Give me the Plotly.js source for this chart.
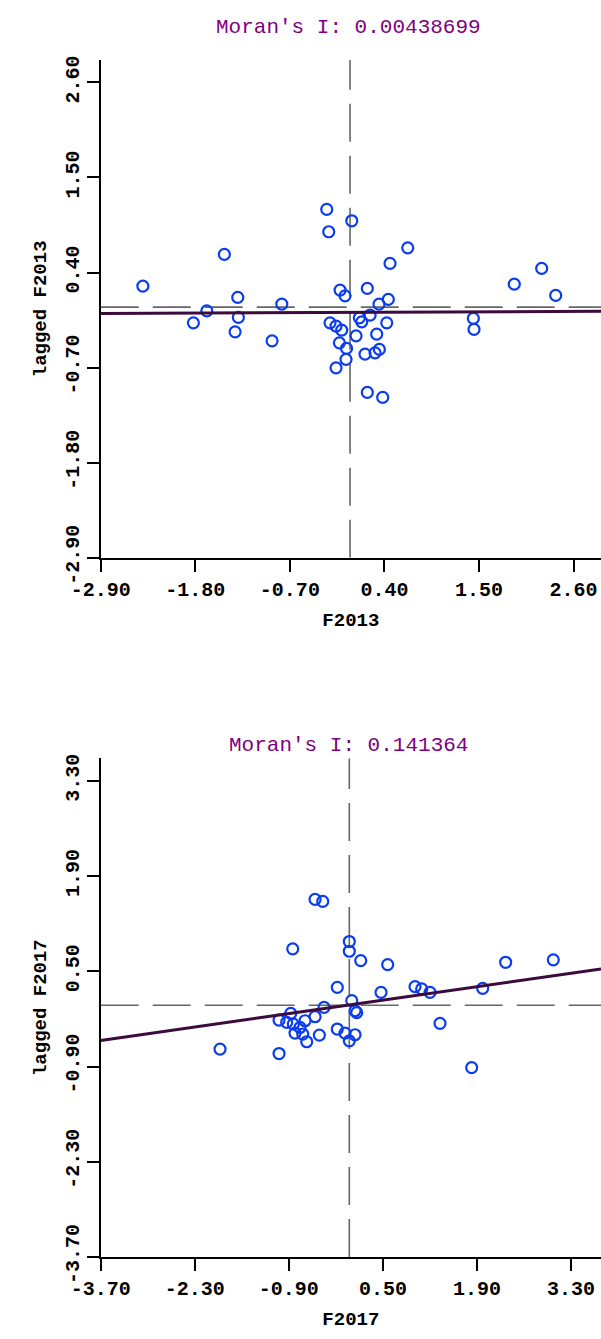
<!DOCTYPE html>
<html>
<head>
<meta charset="utf-8">
<script src="https://cdn.plot.ly/plotly-3.0.1.min.js"></script>
<style>
  html, body { margin: 0; padding: 0; background: #ffffff; }
  #chart { width: 601px; height: 1339px; }
</style>
</head>
<body>
<div id="chart"></div>
<script>
// ---------- data: Moran scatter plot 2013 ----------
const f2013 = [-0.271, -0.248, -1.462, -2.410, -1.306, -0.116, -0.058, -0.794, -1.666, -1.299,
               -1.822, -1.337, -0.907, -0.233, -0.163, -0.097, -0.124, -0.041, -0.047, -0.163,
                0.020,  0.671,  0.465,  0.201,  0.445,  0.337,  0.233,  0.108,  0.136,  0.427,
                0.070,  0.310,  0.174,  0.291,  0.341,  0.201,  0.380,  1.434,  1.442,  1.910,
                2.229,  2.392];
const laggedF2013 = [1.131, 0.872, 0.610, 0.243, 0.112, 0.197, 0.131, 0.035, -0.043, -0.119,
                    -0.182, -0.286, -0.390, -0.182, -0.220, -0.266, -0.413, -0.478, -0.605, -0.703,
                     0.999, 0.686, 0.506, 0.216, 0.089, 0.035, -0.093, -0.124, -0.170, -0.182,
                    -0.332, -0.313, -0.544, -0.529, -0.490, -0.987, -1.045, -0.131, -0.258, 0.266,
                     0.448, 0.135];
const moranI2013 = 0.00438699;
const intercept2013 = -0.061;
const ticks2013 = [-2.9, -1.8, -0.7, 0.4, 1.5, 2.6];
const tickLabels2013 = ["-2.90", "-1.80", "-0.70", "0.40", "1.50", "2.60"];

// ---------- data: Moran scatter plot 2017 ----------
const f2017 = [-0.510, -0.396, -0.842, 0.000, 0.000, 0.170, 0.571, 2.327, 3.036, -0.179,
                0.472, 0.978, 1.077, 1.201, 1.985, 0.036, 0.085, 0.110, 1.350, -0.179,
               -0.064, 0.085, 0.000, 1.821, -1.924, -1.046, -0.376, -0.510, -0.872, -1.046,
               -0.932, -0.833, -0.659, -0.734, -0.808, -0.693, -0.634, -0.446];
const laggedF2017 = [1.556, 1.527, 0.830, 0.937, 0.794, 0.657, 0.598, 0.632, 0.668, 0.264,
                     0.190, 0.274, 0.240, 0.190, 0.249, 0.068, -0.080, -0.109, -0.267, -0.349,
                    -0.408, -0.433, -0.522, -0.915, -0.644, -0.709, -0.031, -0.168, -0.119, -0.217,
                    -0.252, -0.276, -0.227, -0.326, -0.408, -0.423, -0.536, -0.438];
const moranI2017 = 0.141364;
const intercept2017 = 0.005;
const ticks2017 = [-3.7, -2.3, -0.9, 0.5, 1.9, 3.3];
const tickLabels2017 = ["-3.70", "-2.30", "-0.90", "0.50", "1.90", "3.30"];

// ---------- styling ----------
const FONT = "Liberation Mono, DejaVu Sans Mono, monospace";
const pointColor = "#0a3cf0";
const lineColor = "#3c0a3c";
const dashColor = "#666666";

const xr1 = [-2.9, 2.919], yr1 = [-2.9, 2.86];
const xr2 = [-3.7, 3.746], yr2 = [-3.7, 3.63];

function axisBase(tv, tt, range, domain, anchor) {
  return {
    range: range, domain: domain, anchor: anchor,
    tickmode: "array", tickvals: tv, ticktext: tt,
    showgrid: false, zeroline: false,
    showline: true, linecolor: "#000", linewidth: 2,
    ticks: "outside", ticklen: 12, tickwidth: 2, tickcolor: "#000",
    tickfont: { family: FONT, size: 20, color: "#000", weight: "bold" },
    fixedrange: true
  };
}

const markerStyle = { symbol: "circle-open", size: 11, color: pointColor, line: { width: 2.2, color: pointColor } };

const traces = [
  { x: f2013, y: laggedF2013, xaxis: "x", yaxis: "y", type: "scatter", mode: "markers",
    marker: markerStyle, hoverinfo: "x+y" },
  { x: xr1, y: xr1.map(v => intercept2013 + moranI2013 * v), xaxis: "x", yaxis: "y",
    type: "scatter", mode: "lines", line: { color: lineColor, width: 3 }, hoverinfo: "skip" },
  { x: f2017, y: laggedF2017, xaxis: "x2", yaxis: "y2", type: "scatter", mode: "markers",
    marker: markerStyle, hoverinfo: "x+y" },
  { x: xr2, y: xr2.map(v => intercept2017 + moranI2017 * v), xaxis: "x2", yaxis: "y2",
    type: "scatter", mode: "lines", line: { color: lineColor, width: 3 }, hoverinfo: "skip" }
];

const dash = { color: dashColor, width: 1.6, dash: "38px,14px" };
const titleFont = { family: FONT, size: 19, color: "#000", weight: "bold" };

const layout = {
  width: 601, height: 1339,
  margin: { l: 0, r: 0, t: 0, b: 0, pad: 0 },
  paper_bgcolor: "#fff", plot_bgcolor: "#fff",
  showlegend: false,
  xaxis: Object.assign(axisBase(ticks2013, tickLabels2013, xr1, [0.1676, 1], "y"),
    { title: { text: "F2013", font: titleFont, standoff: 12 } }),
  yaxis: Object.assign(axisBase(ticks2013, tickLabels2013, yr1, [0.5835, 0.9552], "x"),
    { tickangle: -90, title: { text: "lagged F2013", font: titleFont, standoff: 10 } }),
  xaxis2: Object.assign(axisBase(ticks2017, tickLabels2017, xr2, [0.1676, 1], "y2"),
    { title: { text: "F2017", font: titleFont, standoff: 12 } }),
  yaxis2: Object.assign(axisBase(ticks2017, tickLabels2017, yr2, [0.0612, 0.4337], "x2"),
    { tickangle: -90, title: { text: "lagged F2017", font: titleFont, standoff: 10 } }),
  shapes: [
    { type: "line", xref: "x", yref: "y", x0: 0, x1: 0, y0: yr1[0], y1: yr1[1], line: dash, layer: "below" },
    { type: "line", xref: "x", yref: "y", x0: xr1[0], x1: xr1[1], y0: 0, y1: 0, line: dash, layer: "below" },
    { type: "line", xref: "x2", yref: "y2", x0: 0, x1: 0, y0: yr2[0], y1: yr2[1], line: dash, layer: "below" },
    { type: "line", xref: "x2", yref: "y2", x0: xr2[0], x1: xr2[1], y0: 0, y1: 0, line: dash, layer: "below" }
  ],
  annotations: [
    { text: "Moran's I: " + moranI2013, xref: "paper", yref: "paper", x: 0.58, y: 1 - 27 / 1339,
      xanchor: "center", yanchor: "middle", showarrow: false,
      font: { family: FONT, size: 21, color: "#800080" } },
    { text: "Moran's I: " + moranI2017, xref: "paper", yref: "paper", x: 0.58, y: 1 - 745 / 1339,
      xanchor: "center", yanchor: "middle", showarrow: false,
      font: { family: FONT, size: 21, color: "#800080" } }
  ]
};

Plotly.newPlot("chart", traces, layout, { staticPlot: true, displayModeBar: false });
</script>
</body>
</html>
